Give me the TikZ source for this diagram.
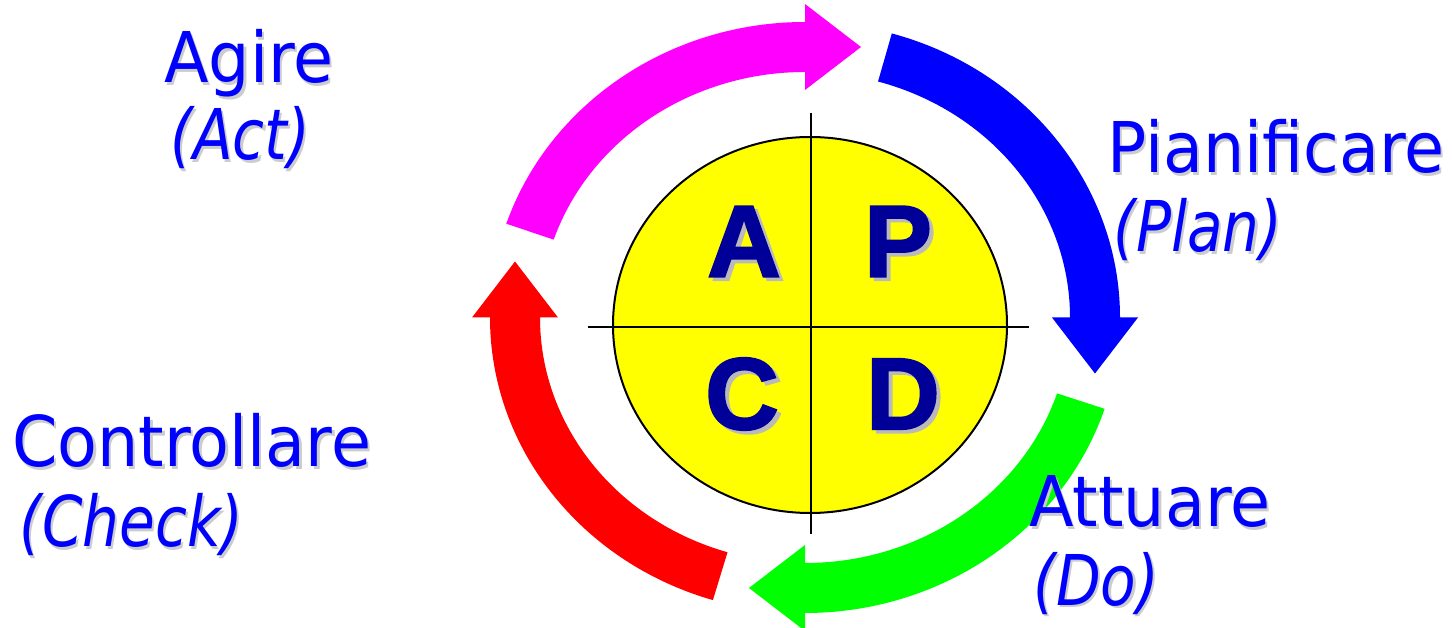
\documentclass[tikz,border=0pt]{standalone}
\usepackage{fontspec}
\setmainfont{DejaVu Sans}
\newfontfamily\phasefont[FakeStretch=0.93, ItalicFeatures={FakeStretch=0.83}]{DejaVu Sans}
\newfontfamily\quadfont[BoldFeatures={FakeBold=2}]{Liberation Sans}
\usetikzlibrary{calc}
\definecolor{quadblue}{RGB}{0,0,153}
\definecolor{phaseblue}{RGB}{0,0,255}
\definecolor{quadyellow}{RGB}{255,255,0}
\definecolor{actcol}{RGB}{255,0,255}
\definecolor{plancol}{RGB}{0,0,255}
\definecolor{docol}{RGB}{0,255,0}
\definecolor{checkcol}{RGB}{255,0,0}
\tikzset{
  quad/.style={font=\quadfont\bfseries\fontsize{51}{51}\selectfont, text=quadblue, inner sep=0pt},
  quadshadow/.style={quad, text=black!27, xshift=2pt, yshift=-1.8pt},
  phase/.style={font=\phasefont\fontsize{35}{40}\selectfont, text=phaseblue, inner sep=0pt, anchor=base west},
  phaseshadow/.style={phase, text=black!20, xshift=1.1pt, yshift=-1.1pt},
  cross/.style={line width=0.8pt},
  rim/.style={line width=1pt, fill=quadyellow}
}
% curved block arrow: colour, tail angle, head angle
\newcommand{\cyclearrow}[3]{%
  \fill[#1] ($(ac)+(#2:{\ra+\hw} and {\rb+\hw})$)
    arc[start angle=#2, end angle=#3, x radius=\ra+\hw, y radius=\rb+\hw]
    -- ($(ac)+(#3:{\ra+\hh} and {\rb+\hh})$)
    -- ($(ac)+(#3:{\ra} and {\rb})+(#3-90:\hl)$)
    -- ($(ac)+(#3:{\ra-\hh} and {\rb-\hh})$)
    -- ($(ac)+(#3:{\ra-\hw} and {\rb-\hw})$)
    arc[start angle=#3, end angle=#2, x radius=\ra-\hw, y radius=\rb-\hw]
    -- cycle;}

\begin{document}
\begin{tikzpicture}[x=0.5pt, y=0.5pt]
\useasboundingbox (0,0) rectangle (1452,627);
\def\ra{290}\def\rb{270.5}\def\hw{25}\def\hh{43}\def\hl{56}
\coordinate (ac) at (805,309.5);
% the four arrows of the cycle
\cyclearrow{actcol}{161.5}{90}
\cyclearrow{plancol}{74}{0}
\cyclearrow{docol}{-18}{-90}
\cyclearrow{checkcol}{-107}{-180}
% central disc
\draw[rim] (810,302) ellipse [x radius=197, y radius=188];
\draw[cross] (811,514) -- (811,93);
\draw[cross] (588,300) -- (1029,300);
\node[quadshadow] (a-s) at (744,385.5) {A};
\node[quad] (a) at (744,385.5) {A};
\node[quadshadow] (p-s) at (898,385.5) {P};
\node[quad] (p) at (898,385.5) {P};
\node[quadshadow] (c-s) at (742,233) {C};
\node[quad] (c) at (742,233) {C};
\node[quadshadow] (d-s) at (903,233) {D};
\node[quad] (d) at (903,233) {D};
% phase labels
\node[phaseshadow] (act-s) at (164,544) {Agire};
\node[phase] (act) at (164,544) {Agire};
\node[phaseshadow] (act2-s) at (170,467) {\itshape (Act)};
\node[phase] (act2) at (170,467) {\itshape (Act)};
\node[phaseshadow] (plan-s) at (1107,454) {Pianificare};
\node[phase] (plan) at (1107,454) {Pianificare};
\node[phaseshadow] (plan2-s) at (1113,375) {\itshape (Plan)};
\node[phase] (plan2) at (1113,375) {\itshape (Plan)};
\node[phaseshadow] (check-s) at (12,160) {Controllare};
\node[phase] (check) at (12,160) {Controllare};
\node[phaseshadow] (check2-s) at (19,80) {\itshape (Check)};
\node[phase] (check2) at (19,80) {\itshape (Check)};
\node[phaseshadow] (do-s) at (1029,100) {Attuare};
\node[phase] (do) at (1029,100) {Attuare};
\node[phaseshadow] (do2-s) at (1033,22) {\itshape (Do)};
\node[phase] (do2) at (1033,22) {\itshape (Do)};
\end{tikzpicture}
\end{document}
